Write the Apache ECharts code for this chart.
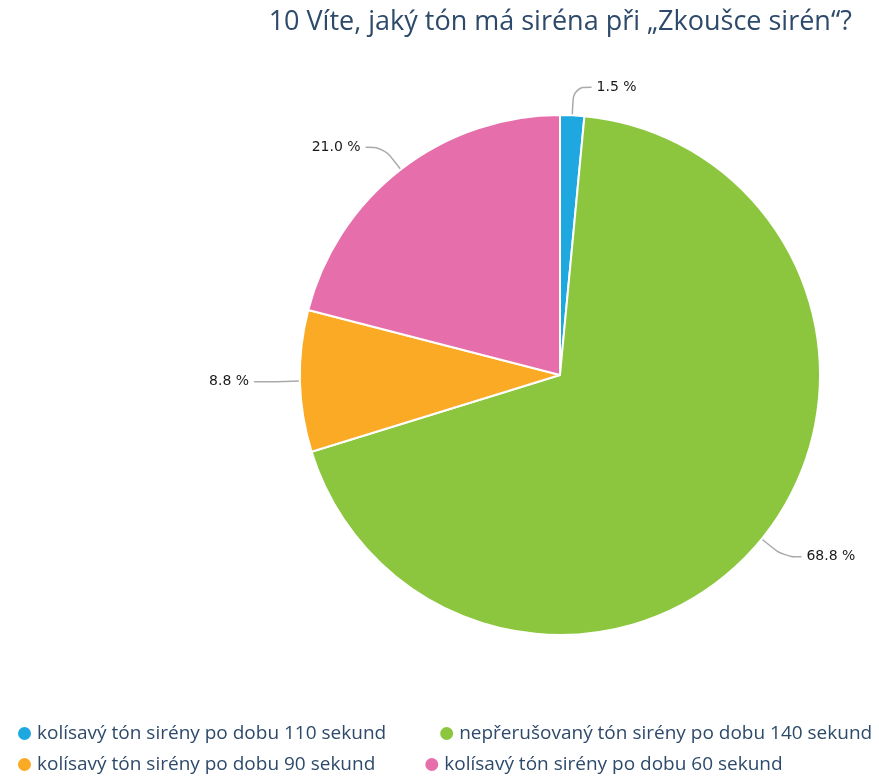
<!DOCTYPE html>
<html><head><meta charset="utf-8">
<script src="https://cdn.jsdelivr.net/npm/echarts@6/dist/echarts.min.js"></script>
<style>html,body{margin:0;padding:0;background:#fff}#c{width:879px;height:776px}</style>
</head><body><div id="c"></div>
<script>
var titleText = '10 Víte, jaký tón má siréna při „Zkoušce sirén“?';
var categories = [
  'kolísavý tón sirény po dobu 110 sekund',
  'nepřerušovaný tón sirény po dobu 140 sekund',
  'kolísavý tón sirény po dobu 90 sekund',
  'kolísavý tón sirény po dobu 60 sekund'
];
var values = [1.5, 68.8, 8.8, 21.0];
var colors = ['#1fa8e0', '#8cc63f', '#fbaa26', '#e66eab'];

var chart = echarts.init(document.getElementById('c'));
var data = categories.map(function (n, i) { return { name: n, value: values[i], itemStyle: { color: colors[i] } }; });
var legendText = { fontSize: 19, color: '#2e4a6b', fontFamily: 'Open Sans, sans-serif' };
chart.setOption({
  animation: false,
  title: { text: titleText, right: 22, top: 4,
    textStyle: { fontSize: 27, fontWeight: 'normal', color: '#2e4a6b', fontFamily: 'Open Sans, sans-serif' } },
  legend: [
    { data: [categories[0], categories[1]], left: 11, top: 719, width: 900, icon: 'circle', itemWidth: 15, itemHeight: 15, itemGap: 52, textStyle: legendText },
    { data: [categories[2], categories[3]], left: 11, top: 750, width: 900, icon: 'circle', itemWidth: 15, itemHeight: 15, itemGap: 48, textStyle: legendText }
  ],
  series: [{
    type: 'pie',
    center: [560, 375],
    radius: 260,
    startAngle: 90,
    clockwise: true,
    data: data,
    itemStyle: { borderColor: '#fff', borderWidth: 2 },
    label: { formatter: function (p) { return p.value.toFixed(1) + ' %'; }, fontSize: 14, color: '#1a1a1a', fontFamily: 'DejaVu Sans, sans-serif' },
    labelLine: { length: 28, length2: 18, smooth: 0.4, lineStyle: { color: '#aaa', width: 1.5 } },
    emphasis: { disabled: true }
  }]
});
</script></body></html>
